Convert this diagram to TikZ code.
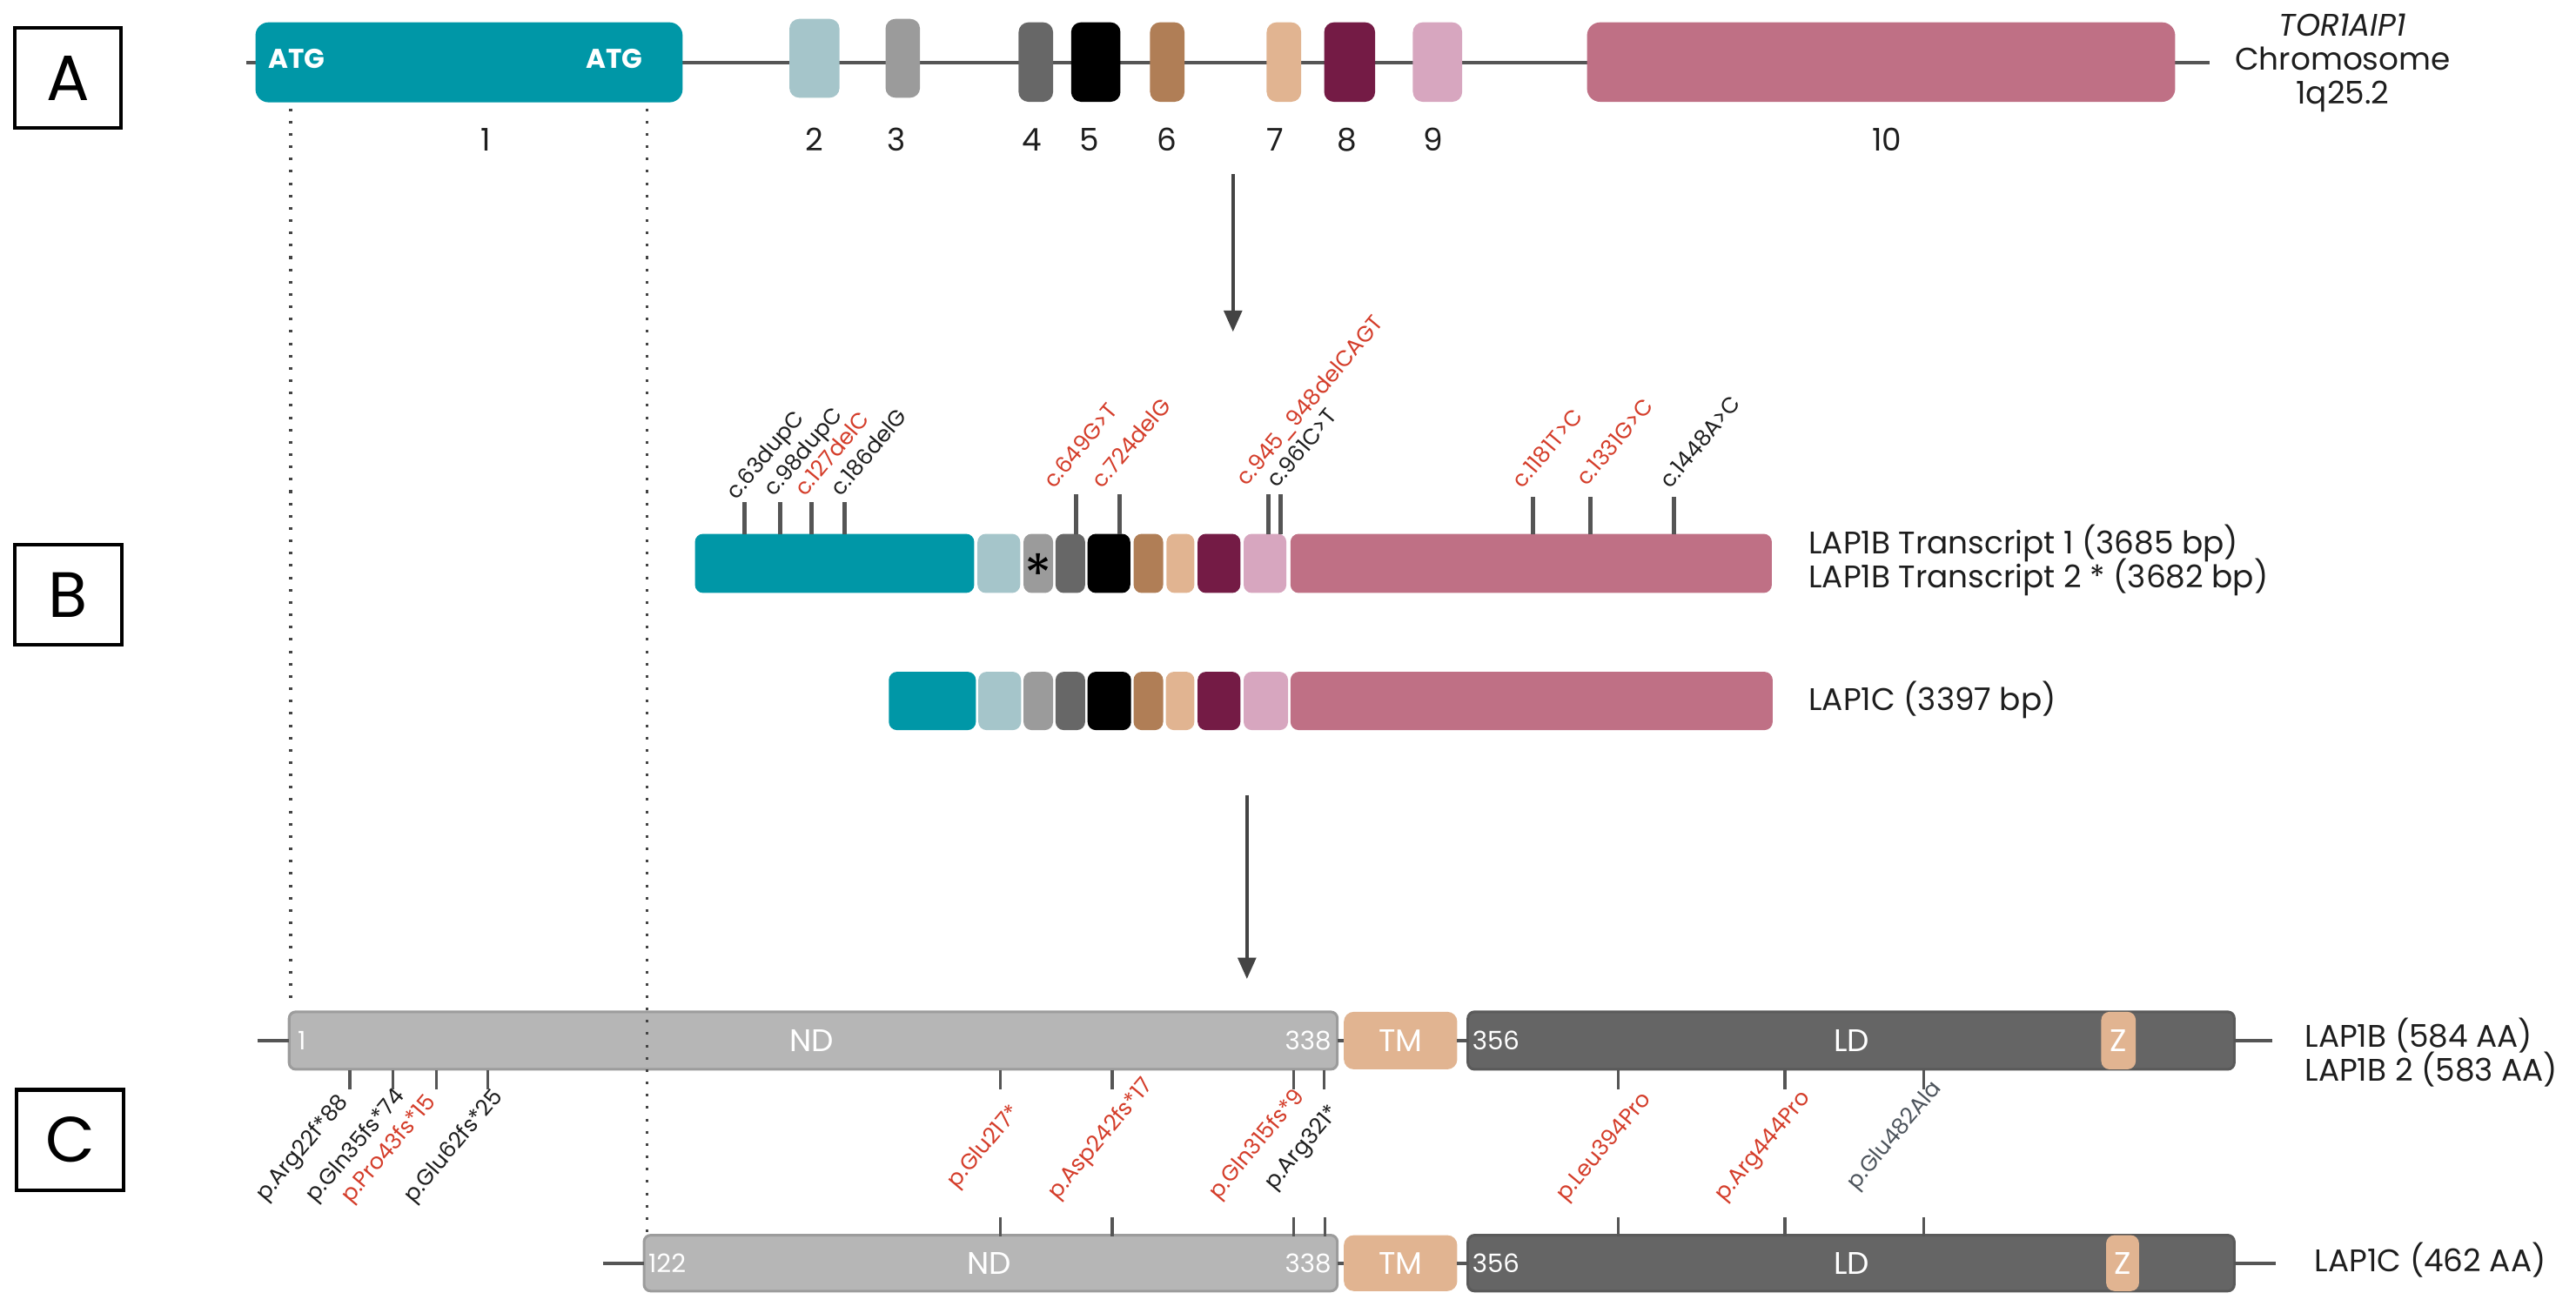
\documentclass[tikz,border=0pt]{standalone}
\usepackage{fontspec}
\setmainfont{Poppins}
\usetikzlibrary{arrows.meta}
\definecolor{cTeal}{HTML}{0097A7}
\definecolor{cLB}{HTML}{A5C5CA}
\definecolor{cGthree}{HTML}{9B9B9B}
\definecolor{cGfour}{HTML}{676767}
\definecolor{cBr}{HTML}{B07E56}
\definecolor{cTan}{HTML}{E1B491}
\definecolor{cMar}{HTML}{741B45}
\definecolor{cPk}{HTML}{D7A6BF}
\definecolor{cRose}{HTML}{BF7085}
\definecolor{cND}{HTML}{B6B6B6}
\definecolor{cNDb}{HTML}{9C9C9C}
\definecolor{cLD}{HTML}{656565}
\definecolor{cLDb}{HTML}{5A5A5A}
\definecolor{cLine}{HTML}{555555}
\definecolor{cArr}{HTML}{444444}
\definecolor{cRed}{HTML}{D43D2A}
\definecolor{cTxt}{HTML}{1E1E1E}
\definecolor{cSlate}{HTML}{4D545C}
\newcommand\setfs[1]{\fontsize{#1}{#1}\selectfont}
\newcommand\placebox[6]{\node[#6,minimum width={#3-#2},minimum height={#5-#4}] (#1) at ({(#2+#3)/2},{(#4+#5)/2}) {};}
% name, x, ytop, lx, ly, color, text
\newcommand\mutB[7]{\coordinate (#1a) at (#2,325);\coordinate (#1b) at (#2,#3);\draw[tickB] (#1a) -- (#1b);\node[labB,text=#6] (#1) at (#4,#5) {#7};}
% name, x, lx, ly, color, text
\newcommand\mutC[6]{\coordinate (#1a) at (#2,651.5);\coordinate (#1b) at (#2,663);\draw[tickC] (#1a) -- (#1b);\node[labB,text=#5] (#1) at (#3,#4) {#6};}
\newcommand\mutCC[2]{\coordinate (#1c) at (#2,741);\coordinate (#1d) at (#2,752.5);\draw[tickC] (#1c) -- (#1d);}
\begin{document}
\begin{tikzpicture}[x=1pt,y=-1pt,
  blk/.style={rectangle,rounded corners=5pt,inner sep=0pt,outer sep=0pt,draw=none},
  txt/.style={inner sep=0pt,outer sep=0pt,text=cTxt},
  labB/.style={txt,font=\setfs{13.5},rotate=50,anchor=base west},
  tickB/.style={draw=cLine,line width=2.5pt},
  tickC/.style={draw=cLine,line width=1.8pt},
  gline/.style={draw=cLine,line width=2pt},
  pline/.style={draw=cLine,line width=2.2pt},
  arr/.style={draw=cArr,line width=2pt,-{Triangle[length=13pt,width=11pt]}},
  dotline/.style={draw=cArr,line width=1.8pt,dash pattern=on 1.6pt off 5.9pt},
  secbox/.style={draw=black,line width=2.2pt,minimum width=65pt,minimum height=61pt,inner sep=0pt,font=\setfs{39}},
  num/.style={txt,font=\setfs{19}},
  side/.style={txt,font=\setfs{19},anchor=base west},
  wtxt/.style={inner sep=0pt,text=white,font=\setfs{19}},
  wnum/.style={inner sep=0pt,text=white,font=\setfs{15.5}},
  nd/.style={rectangle,rounded corners=4pt,inner sep=0pt,outer sep=0pt,fill=cND,draw=cNDb,line width=1.6pt},
  ld/.style={nd,fill=cLD,draw=cLDb},
  tm/.style={blk,fill=cTan,rounded corners=6pt}]
\useasboundingbox (0,0) rectangle (1568,799);

% section boxes
\node[secbox] (boxA) at (41.3,47.5) {A};
\node[secbox] (boxB) at (41.5,362) {B};
\node[secbox] (boxC) at (42.6,694) {C};

% ---------- A: gene ----------
\coordinate (gs) at (150,38);
\coordinate (ge) at (1345,38);
\draw[gline] (gs) -- (ge);
\placebox{e1}{155.5}{415.5}{13.6}{62.3}{blk,fill=cTeal,rounded corners=8pt}
\placebox{e2}{480.5}{511}{11.5}{59.5}{blk,fill=cLB,rounded corners=6pt}
\placebox{e3}{539}{560}{11.5}{59.5}{blk,fill=cGthree,rounded corners=6pt}
\placebox{e4}{620}{641}{13.6}{62}{blk,fill=cGfour,rounded corners=6pt}
\placebox{e5}{652}{682}{13.6}{62}{blk,fill=black,rounded corners=6pt}
\placebox{e6}{700}{721}{13.6}{62}{blk,fill=cBr,rounded corners=6pt}
\placebox{e7}{771}{792}{13.6}{62}{blk,fill=cTan,rounded corners=6pt}
\placebox{e8}{806}{837}{13.6}{62}{blk,fill=cMar,rounded corners=6pt}
\placebox{e9}{860}{890}{13.6}{62}{blk,fill=cPk,rounded corners=6pt}
\placebox{e10}{966}{1324}{13.6}{62}{blk,fill=cRose,rounded corners=8pt}
\node[inner sep=0pt,text=white,font=\setfs{16.5}\bfseries] (atgA) at (180.5,36) {ATG};
\node[inner sep=0pt,text=white,font=\setfs{16.5}\bfseries] (atgB) at (374,36) {ATG};
\node[num] (n1) at (295.6,85) {1};
\node[num] (n2) at (495.6,85) {2};
\node[num] (n3) at (545.5,85) {3};
\node[num] (n4) at (628,85) {4};
\node[num] (n5) at (663,85) {5};
\node[num] (n6) at (710.4,85) {6};
\node[num] (n7) at (776.4,85) {7};
\node[num] (n8) at (820,85) {8};
\node[num] (n9) at (872.5,85) {9};
\node[num] (n10) at (1148.5,85) {10};
\node[txt,align=center,font=\fontsize{19}{20.5}\selectfont] (chr) at (1426,38.4) {\textit{TOR1AIP1}\\Chromosome\\1q25.2};

% arrow 1
\coordinate (ar1s) at (750.5,106);
\coordinate (ar1e) at (750.5,202);
\draw[arr] (ar1s) -- (ar1e);

% ---------- B: transcripts ----------
\placebox{ta1}{423}{593}{325}{361}{blk,fill=cTeal}
\placebox{ta2}{595}{621}{325}{361}{blk,fill=cLB}
\placebox{ta3}{623}{641}{325}{361}{blk,fill=cGthree}
\placebox{ta4}{642.5}{660.5}{325}{361}{blk,fill=cGfour}
\placebox{ta5}{662}{688}{325}{361}{blk,fill=black}
\placebox{ta6}{690}{708}{325}{361}{blk,fill=cBr}
\placebox{ta7}{710}{727}{325}{361}{blk,fill=cTan}
\placebox{ta8}{729}{755}{325}{361}{blk,fill=cMar}
\placebox{ta9}{757}{783}{325}{361}{blk,fill=cPk}
\placebox{ta10}{785.5}{1078.5}{325}{361}{blk,fill=cRose}
\node[inner sep=0pt,anchor=base,font=\setfs{34},text=black] (star) at (632,362) {*};

\placebox{tb1}{541}{594}{409}{444.5}{blk,fill=cTeal}
\placebox{tb2}{595.5}{621.5}{409}{444.5}{blk,fill=cLB}
\placebox{tb3}{623}{641}{409}{444.5}{blk,fill=cGthree}
\placebox{tb4}{642.5}{660.5}{409}{444.5}{blk,fill=cGfour}
\placebox{tb5}{662}{688.5}{409}{444.5}{blk,fill=black}
\placebox{tb6}{690}{708}{409}{444.5}{blk,fill=cBr}
\placebox{tb7}{709.6}{727}{409}{444.5}{blk,fill=cTan}
\placebox{tb8}{729}{755}{409}{444.5}{blk,fill=cMar}
\placebox{tb9}{757}{784}{409}{444.5}{blk,fill=cPk}
\placebox{tb10}{785.5}{1079}{409}{444.5}{blk,fill=cRose}

\mutB{ma}{453}{305.6}{448.3}{304.6}{cTxt}{c.63dupC}
\mutB{mb}{475}{305.6}{471.3}{302.8}{cTxt}{c.98dupC}
\mutB{mc}{494}{305.6}{490}{302.8}{cRed}{c.127delC}
\mutB{md}{514}{305.6}{511.8}{302.8}{cTxt}{c.186delG}
\mutB{me}{655}{301}{641.5}{298}{cRed}{c.649G>T}
\mutB{mf}{681.6}{301}{671}{298}{cRed}{c.724delG}
\mutB{mg}{772}{301}{759}{296.6}{cRed}{c.945\_948delCAGT}
\mutB{mh}{779.5}{301}{777.6}{297.7}{cTxt}{c.961C>T}
\mutB{mi}{933}{302.5}{927}{298}{cRed}{c.1181T>C}
\mutB{mj}{968}{302.5}{966}{296.6}{cRed}{c.1331G>C}
\mutB{mk}{1019}{302.5}{1016.7}{298}{cTxt}{c.1448A>C}

\node[side] (tr1) at (1101,337.4) {LAP1B Transcript 1 (3685 bp)};
\node[side] (tr2) at (1101,357.6) {LAP1B Transcript 2 * (3682 bp)};
\node[side] (tr3) at (1101,432.7) {LAP1C (3397 bp)};

% arrow 2
\coordinate (ar2s) at (759,484);
\coordinate (ar2e) at (759,596);
\draw[arr] (ar2s) -- (ar2e);

% ---------- C: proteins ----------
\coordinate (p1l) at (157,633.5);
\coordinate (p1r) at (1383,633.5);
\placebox{nd1}{176}{814}{616}{651}{nd}
\placebox{tm1}{818}{887}{616}{651}{tm}
\placebox{ld1}{893.5}{1360}{616}{651}{ld}
\draw[pline] (p1l) -- (nd1.west);
\draw[pline] (nd1.east) -- (tm1.west);
\draw[pline] (tm1.east) -- (ld1.west);
\draw[pline] (ld1.east) -- (p1r);
\placebox{z1}{1279}{1300}{616}{651}{blk,fill=cTan,rounded corners=5pt}
\node[wnum,anchor=west] (s1) at (181,633.5) {1};
\node[wtxt] (ndt1) at (494,633.5) {ND};
\node[wnum,anchor=east] (s338a) at (810.5,633.5) {338};
\node[wtxt] (tmt1) at (852.5,633.5) {TM};
\node[wnum,anchor=west] (s356a) at (896,633.5) {356};
\node[wtxt] (ldt1) at (1127,633.5) {LD};
\node[wtxt] (zt1) at (1289.5,633.5) {Z};

\coordinate (p2l) at (367,769);
\coordinate (p2r) at (1385,769);
\placebox{nd2}{392}{814}{752}{786}{nd}
\placebox{tm2}{818}{887}{752}{786}{tm}
\placebox{ld2}{893.5}{1360}{752}{786}{ld}
\draw[pline] (p2l) -- (nd2.west);
\draw[pline] (nd2.east) -- (tm2.west);
\draw[pline] (tm2.east) -- (ld2.west);
\draw[pline] (ld2.east) -- (p2r);
\placebox{z2}{1282}{1302}{752}{786}{blk,fill=cTan,rounded corners=5pt}
\node[wnum,anchor=west] (s122) at (394.5,769) {122};
\node[wtxt] (ndt2) at (602,769) {ND};
\node[wnum,anchor=east] (s338b) at (810.5,769) {338};
\node[wtxt] (tmt2) at (852.5,769) {TM};
\node[wnum,anchor=west] (s356b) at (896,769) {356};
\node[wtxt] (ldt2) at (1127,769) {LD};
\node[wtxt] (zt2) at (1292,769) {Z};

\mutC{pa}{213}{161.7}{731.7}{cTxt}{p.Arg22f*88}
\mutC{pb}{239.3}{192.2}{732.6}{cTxt}{p.Gln35fs*74}
\mutC{pc}{265.5}{213.7}{733}{cRed}{p.Pro43fs*15}
\mutC{pd}{297}{251.7}{733}{cTxt}{p.Glu62fs*25}
\mutC{pe}{609}{582.5}{723.7}{cRed}{p.Glu217*}
\mutC{pf}{677}{643.7}{730.6}{cRed}{p.Asp242fs*17}
\mutC{pg}{787.5}{741.7}{730.6}{cRed}{p.Gln315fs*9}
\mutC{ph}{806}{775.7}{724.8}{cTxt}{p.Arg321*}
\mutC{pi}{985}{953.3}{731.7}{cRed}{p.Leu394Pro}
\mutC{pj}{1086.5}{1049.7}{731.7}{cRed}{p.Arg444Pro}
\mutC{pk}{1171}{1130.2}{724.7}{cSlate}{p.Glu482Ala}
\mutCC{pe}{609}
\mutCC{pf}{677}
\mutCC{pg}{787.5}
\mutCC{ph}{806.5}
\mutCC{pi}{985}
\mutCC{pj}{1086.5}
\mutCC{pk}{1171}

\node[side] (pr1) at (1403,637.3) {LAP1B (584 AA)};
\node[side] (pr2) at (1403,658) {LAP1B 2 (583 AA)};
\node[side] (pr3) at (1409,774.4) {LAP1C (462 AA)};

% dotted guides
\coordinate (d1s) at (177,66);
\coordinate (d1e) at (177,613);
\coordinate (d2s) at (394,66);
\coordinate (d2e) at (394,751);
\draw[dotline] (d1s) -- (d1e);
\draw[dotline] (d2s) -- (d2e);
\end{tikzpicture}
\end{document}
